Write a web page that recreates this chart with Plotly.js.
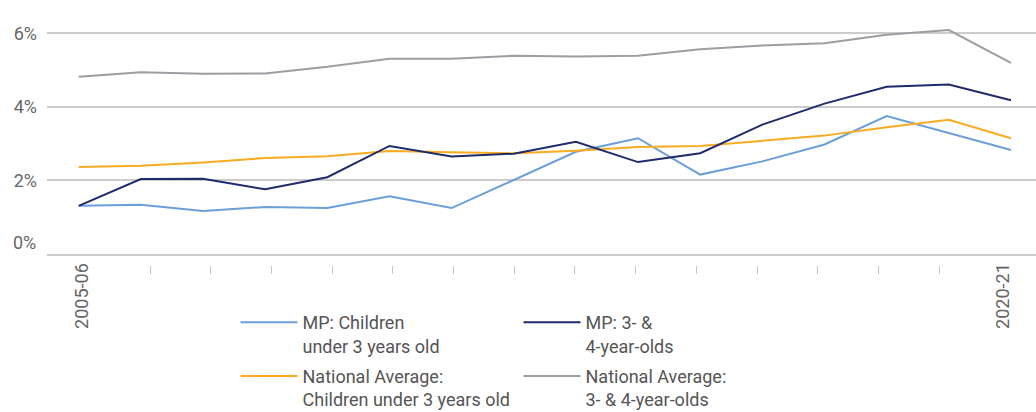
<!DOCTYPE html>
<html><head><meta charset="utf-8">
<script src="https://cdn.plot.ly/plotly-3.0.1.min.js"></script>
<style>html,body{margin:0;padding:0;background:#fff}</style>
</head><body>
<div id="chart" style="width:1036px;height:412px"></div>
<script>
const years = ["2005-06","2006-07","2007-08","2008-09","2009-10","2010-11","2011-12","2012-13","2013-14","2014-15","2015-16","2016-17","2017-18","2018-19","2019-20","2020-21"];
const mpUnder3 = [1.31,1.34,1.17,1.28,1.25,1.57,1.25,2.01,2.78,3.15,2.16,2.52,2.98,3.75,3.29,2.83];
const mp3and4 = [1.31,2.04,2.05,1.76,2.09,2.94,2.65,2.73,3.05,2.50,2.74,3.52,4.09,4.55,4.61,4.18];
const natUnder3 = [2.37,2.40,2.49,2.61,2.66,2.80,2.77,2.74,2.81,2.91,2.94,3.07,3.22,3.45,3.65,3.15];
const nat3and4 = [4.82,4.94,4.90,4.91,5.09,5.31,5.31,5.39,5.37,5.39,5.57,5.67,5.73,5.96,6.09,5.20];
const yTicks = [2,4,6];
const yTickText = ["2%","4%","6%"];

const idx = years.map((_, i) => i);
const font = "Roboto, 'Noto Sans', sans-serif";

function tr(name, y, color, legend, grp) {
  return {x: idx, y: y, name: name, type: 'scatter', mode: 'lines',
    line: {color: color, width: 2}, legend: legend, legendgroup: grp, hoverinfo: 'skip'};
}
const data = [
  tr("MP: Children<br>under 3 years old", mpUnder3, "#6b9fd9", "legend", "a"),
  tr("National Average:<br>Children under 3 years old", natUnder3, "#fbab22", "legend", "b"),
  tr("MP: 3- &amp;<br>4-year-olds", mp3and4, "#1f2b6c", "legend2", "c"),
  tr("National Average:<br>3- &amp; 4-year-olds", nat3and4, "#9c9ea3", "legend2", "d"),
  {x: [1,14], y: [null,null], xaxis: 'x2', yaxis: 'y', showlegend: false, hoverinfo: 'skip', mode: 'lines'}
];

const legendCommon = {
  xanchor: 'left', yanchor: 'top', orientation: 'v', valign: 'top',
  itemwidth: 57, traceorder: 'grouped', tracegroupgap: 4,
  font: {family: font, size: 18, color: '#555'}, bgcolor: 'rgba(0,0,0,0)'
};

const layout = {
  width: 1036, height: 412,
  margin: {l: 47, r: 0, t: 14.6, b: 139, autoexpand: false},
  paper_bgcolor: '#fff', plot_bgcolor: '#fff',
  font: {family: font, color: '#666', size: 18},
  showlegend: true,
  xaxis: {
    range: [-0.51, 15.403], showgrid: false, zeroline: false,
    showline: true, linecolor: '#cccccc', linewidth: 2,
    tickmode: 'array', tickvals: [0.05, 14.87], ticktext: [years[0], years[years.length-1]],
    tickangle: -90, ticks: '', ticklabelstandoff: 0,
    tickfont: {family: font, size: 18, color: '#666'}
  },
  xaxis2: {
    overlaying: 'x', anchor: 'free', position: 0.031,
    range: [-0.697, 15.596], showgrid: false, zeroline: false, showline: false,
    tickmode: 'array', tickvals: idx.slice(1, 15), ticks: 'outside', ticklen: 8,
    tickcolor: '#c4c4c4', tickwidth: 1, showticklabels: false
  },
  yaxis: {
    domain: [0.0735, 1], range: [0, 6.5],
    tickmode: 'array', tickvals: yTicks, ticktext: yTickText,
    showgrid: true, gridcolor: '#cccccc', gridwidth: 2, zeroline: false, showline: false,
    ticks: '', ticklabelstandoff: 9,
    tickfont: {family: font, size: 18, color: '#666'}
  },
  annotations: [{
    xref: 'paper', yref: 'y', x: 0, y: 0, text: '0%', showarrow: false,
    xanchor: 'right', yanchor: 'middle', xshift: -9, yshift: 12,
    font: {family: font, size: 18, color: '#666'}
  }],
  legend: Object.assign({x: (235.5 - 47) / 989, y: (273 - 304) / 258.4}, legendCommon),
  legend2: Object.assign({x: (518.5 - 47) / 989, y: (273 - 304) / 258.4}, legendCommon)
};
Plotly.newPlot('chart', data, layout, {staticPlot: true, displayModeBar: false});
</script>
</body></html>
